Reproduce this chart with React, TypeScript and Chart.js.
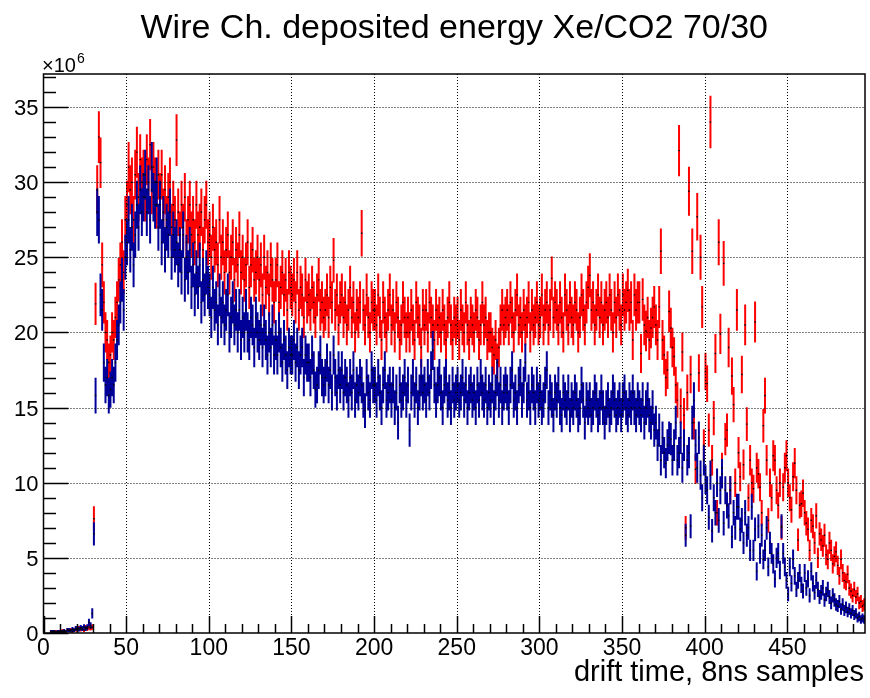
import React, { useEffect, useRef } from "react";
import { Chart, registerables } from "chart.js";

Chart.register(...registerables);

const TITLE = "Wire Ch. deposited energy Xe/CO2 70/30";
const X_TITLE = "drift time, 8ns samples";
const EXP_LABEL = "\u00d710";
const EXP_POWER = "6";

const X_MIN = 0;
const X_MAX = 497;
const Y_MIN = 0;
const Y_MAX = 37.2;
const X_TICKS = [0, 50, 100, 150, 200, 250, 300, 350, 400, 450];
const Y_TICKS = [0, 5, 10, 15, 20, 25, 30, 35];
const X_MINOR_STEP = 10;
const Y_MINOR_STEP = 1;
// per-entry weight (x10^6) used for sqrt(sum w^2) style errors
const ERR_WEIGHT = 0.09;

// deposited energy per bin (x10^6), bins 0..496, red series
const redValues: (number | null)[] = [
  null, null, null, null, 0.1, 0.1, 0.05, 0.1, 0.05, 0.1,
  0.1, 0.15, 0.1, 0.1, 0.2, 0.15, 0.2, 0.1, 0.2, 0.25,
  0.2, 0.3, 0.25, 0.3, 0.2, 0.35, 0.3, 0.4, 0.35, 0.4,
  7.6, 21.9, 29.5, 33.0, 31.3, 24.5, 22.0, 20.0, 19.5, 18.0,
  18.5, 20.0, 19.5, 21.0, 22.0, 23.5, 24.5, 26.0, 24.0, 27.5,
  28.5, 31.0, 29.5, 30.0, 27.5, 30.5, 32.0, 29.0, 31.5, 30.0,
  30.5, 29.0, 31.5, 30.0, 32.5, 29.5, 31.0, 30.0, 28.5, 30.5,
  29.0, 30.5, 28.0, 29.5, 27.5, 29.0, 30.0, 27.0, 28.5, 27.5,
  32.8, 28.0, 26.5, 28.5, 27.0, 29.0, 26.0, 27.5, 28.5, 26.5,
  27.5, 26.0, 28.5, 26.5, 27.0, 28.0, 25.5, 27.5, 28.5, 26.0,
  26.5, 25.0, 27.0, 25.5, 26.0, 24.5, 27.5, 25.0, 26.0, 24.0,
  25.5, 26.5, 24.0, 25.0, 26.0, 23.5, 25.5, 24.5, 26.5, 24.0,
  25.0, 23.5, 24.5, 26.0, 23.0, 24.5, 25.5, 23.5, 24.0, 25.0,
  23.5, 24.5, 22.5, 25.0, 23.0, 24.0, 22.5, 24.5, 23.5, 22.0,
  23.5, 24.5, 22.0, 23.0, 24.0, 22.5, 23.5, 21.5, 24.0, 23.0,
  22.5, 23.5, 22.0, 24.0, 21.5, 23.0, 22.5, 21.0, 23.5, 22.0,
  22.5, 21.5, 23.0, 22.0, 21.0, 22.5, 23.5, 21.5, 22.0, 21.0,
  21.5, 22.5, 21.0, 23.0, 22.0, 24.8, 21.5, 22.5, 20.5, 22.0,
  22.5, 21.0, 22.0, 20.5, 21.5, 23.0, 21.0, 22.0, 20.0, 21.5,
  21.0, 22.0, 26.6, 21.5, 20.5, 22.5, 21.0, 20.0, 22.0, 21.5,
  21.5, 20.5, 22.5, 21.0, 19.5, 22.0, 21.0, 20.0, 21.5, 22.5,
  20.5, 21.5, 20.0, 22.0, 21.0, 19.5, 20.5, 22.0, 21.0, 20.0,
  21.0, 20.0, 21.5, 20.5, 19.5, 22.0, 21.0, 20.5, 19.0, 21.5,
  20.5, 21.5, 20.0, 22.0, 21.0, 20.5, 19.5, 21.5, 20.5, 21.0,
  20.0, 21.5, 20.5, 19.5, 21.0, 22.0, 20.5, 19.5, 21.0, 20.5,
  21.0, 19.5, 21.5, 20.5, 20.0, 22.0, 20.5, 19.5, 21.0, 20.5,
  20.0, 21.5, 21.0, 19.5, 20.5, 22.0, 20.5, 21.0, 19.5, 20.0,
  20.0, 19.0, 18.5, 19.5, 18.0, 19.0, 20.5, 21.5, 20.5, 21.0,
  21.5, 20.5, 22.0, 21.0, 20.0, 21.5, 22.5, 20.5, 21.0, 20.0,
  21.5, 20.5, 21.0, 22.0, 20.0, 21.5, 20.5, 21.0, 22.0, 20.5,
  21.0, 22.5, 20.5, 21.5, 22.0, 20.5, 21.5, 23.6, 21.0, 22.0,
  21.5, 20.5, 22.0, 21.0, 20.0, 22.5, 21.5, 20.5, 22.0, 21.0,
  20.5, 22.0, 21.5, 20.0, 21.0, 22.5, 21.5, 20.5, 22.0, 23.0,
  23.8, 21.5, 22.0, 20.5, 21.5, 22.5, 21.0, 22.0, 20.5, 21.5,
  22.0, 21.0, 22.5, 21.5, 20.0, 22.0, 21.0, 22.5, 21.5, 20.5,
  22.5, 21.5, 22.0, 22.8, 21.5, 22.0, 19.5, 22.5, 21.5, 22.0,
  22.0, 18.6, 22.2, 20.5, 20.1, 21.0, 19.5, 20.3, 21.0, 21.7,
  20.5, 19.5, 21.7, 25.4, 19.5, 18.5, 17.0, 17.5, 21.4, 20.3,
  19.0, 18.4, 16.5, 15.5, 32.1, 15.1, 18.7, 14.5, 7.0, 16.0,
  29.4, 17.2, 25.4, 14.0, 10.9, 27.7, 17.3, 25.0, 21.7, 12.5,
  17.4, 16.6, 13.5, 34.0, 11.5, 14.3, 18.6, 8.0, 26.0, 19.9,
  11.0, 24.6, 12.9, 13.5, 19.0, 9.5, 17.1, 15.2, 10.0, 21.5,
  12.0, 10.4, 17.2, 11.2, 20.5, 13.9, 9.0, 11.5, 10.0, 9.6,
  20.7, 11.0, 10.6, 9.7, 8.0, 13.8, 15.8, 11.5, 7.5, 10.0,
  9.0, 11.8, 11.5, 9.5, 8.5, 10.0, 7.0, 9.7, 11.0, 11.8,
  10.0, 9.0, 8.2, 10.4, 11.3, 9.5, 6.2, 8.5, 8.6, 9.3,
  8.0, 7.3, 6.9, 5.5, 7.5, 7.1, 6.0, 7.8, 5.0, 6.6,
  6.2, 5.8, 6.5, 5.2, 4.9, 6.0, 5.5, 4.6, 5.1, 5.4,
  4.5, 3.8, 4.9, 4.0, 3.5, 3.4, 3.9, 3.0, 2.8, 2.5,
  2.9, 2.4, 2.6, 2.0, 2.1, 1.8, 1.9,
];

// deposited energy per bin (x10^6), bins 0..496, dark blue series
const blueValues: (number | null)[] = [
  null, null, null, null, 0.1, 0.1, 0.1, 0.05, 0.1, 0.1,
  0.1, 0.1, 0.15, 0.1, 0.2, 0.2, 0.15, 0.25, 0.2, 0.3,
  0.3, 0.25, 0.35, 0.3, 0.4, 0.3, 0.4, 0.7, 0.5, 1.3,
  6.6, 15.8, 28.0, 27.5, 22.5, 21.5, 18.0, 16.5, 17.0, 15.8,
  16.2, 17.0, 16.5, 18.0, 19.5, 20.5, 22.0, 23.5, 21.5, 25.0,
  26.0, 27.5, 25.5, 27.0, 24.5, 26.5, 28.5, 27.0, 29.5, 28.0,
  29.0, 30.5, 28.0, 29.5, 27.5, 31.0, 29.0, 28.5, 30.0, 27.0,
  28.5, 26.0, 27.5, 25.5, 27.0, 26.5, 28.0, 25.0, 26.5, 25.5,
  26.0, 24.5, 25.5, 24.0, 26.5, 23.5, 25.0, 24.0, 25.5, 23.0,
  24.5, 22.5, 24.0, 23.0, 24.5, 22.0, 23.5, 22.5, 24.0, 23.0,
  22.5, 21.0, 23.0, 21.5, 22.0, 20.5, 22.5, 21.0, 22.0, 20.5,
  21.5, 22.5, 20.0, 21.0, 22.0, 20.5, 21.5, 20.0, 21.5, 19.5,
  21.0, 20.0, 21.5, 20.0, 19.5, 21.0, 20.5, 19.0, 21.0, 20.0,
  19.5, 20.5, 19.0, 20.5, 19.5, 18.5, 20.0, 19.0, 20.5, 18.5,
  19.5, 18.5, 20.0, 19.0, 18.0, 19.5, 18.5, 17.5, 19.0, 18.5,
  18.5, 19.5, 18.0, 19.0, 17.5, 18.5, 19.0, 17.0, 18.5, 18.0,
  18.0, 17.0, 18.5, 17.5, 16.2, 16.5, 17.5, 18.5, 17.0, 16.5,
  17.0, 18.0, 16.5, 17.5, 16.0, 18.5, 17.0, 16.0, 17.5, 16.5,
  17.5, 16.0, 17.0, 16.5, 15.5, 17.0, 16.0, 17.5, 15.5, 16.5,
  16.0, 17.0, 16.5, 15.5, 14.8, 17.0, 16.0, 15.5, 17.5, 16.5,
  16.5, 15.5, 17.0, 16.0, 15.0, 16.5, 17.5, 15.5, 16.0, 16.5,
  15.5, 16.5, 15.0, 16.0, 14.0, 16.5, 15.5, 16.0, 17.0, 15.5,
  16.5, 13.5, 16.0, 17.0, 15.5, 16.5, 15.0, 16.0, 17.0, 16.0,
  16.5, 15.5, 17.0, 16.0, 17.5, 18.8, 16.5, 15.5, 16.5, 17.0,
  16.0, 15.0, 16.5, 17.0, 15.5, 16.0, 15.0, 16.5, 15.5, 16.0,
  16.5, 15.5, 16.0, 17.0, 15.5, 16.5, 15.0, 16.0, 16.5, 15.5,
  16.0, 15.0, 16.5, 15.5, 17.0, 16.0, 15.5, 16.5, 15.0, 16.0,
  15.5, 16.5, 15.0, 16.0, 17.0, 15.5, 16.5, 15.0, 16.0, 16.5,
  16.0, 15.0, 16.5, 17.5, 15.5, 16.0, 15.0, 16.5, 17.0, 15.5,
  16.5, 18.0, 15.5, 16.0, 15.0, 16.5, 16.0, 15.0, 16.5, 15.5,
  16.0, 15.0, 15.5, 16.5, 17.5, 15.0, 16.0, 15.5, 14.5, 16.0,
  15.5, 16.5, 15.0, 14.5, 16.0, 15.5, 15.0, 16.0, 14.5, 15.5,
  15.0, 16.0, 15.5, 14.5, 15.0, 16.5, 15.5, 14.0, 15.5, 15.0,
  15.5, 14.5, 15.0, 16.0, 15.5, 14.5, 15.0, 16.0, 15.0, 14.0,
  15.0, 15.5, 14.5, 15.0, 16.0, 15.5, 14.5, 15.0, 15.5, 14.5,
  15.5, 16.0, 15.0, 14.5, 15.5, 15.0, 16.0, 15.0, 14.5, 15.5,
  15.0, 14.5, 15.5, 14.0, 15.0, 15.5, 14.5, 14.0, 15.0, 13.5,
  14.0, 12.5, 13.5, 11.5, 13.0, 12.0, 11.3, 12.5, 13.0, 12.9,
  11.5, 12.5, 14.0, 11.5, 12.0, 13.0, 11.0, 12.5, 6.5, 11.5,
  12.0, 7.1, 14.0, 15.5, 12.5, 11.0, 13.0, 10.5, 9.0, 11.5,
  10.2, 9.5, 7.7, 10.5, 6.8, 9.0, 8.0, 10.0, 7.5, 9.5,
  10.6, 7.3, 9.5, 8.5, 7.8, 9.5, 6.4, 8.0, 7.0, 8.4,
  8.4, 6.9, 7.5, 6.0, 8.0, 6.5, 7.0, 5.5, 8.4, 5.5,
  6.9, 4.1, 7.1, 5.3, 6.5, 4.9, 5.5, 7.0, 4.4, 6.0,
  5.3, 4.6, 3.6, 5.0, 5.3, 4.2, 7.1, 5.3, 4.4, 3.5,
  2.6, 4.4, 3.3, 4.9, 3.8, 2.9, 3.5, 4.0, 3.2, 2.8,
  4.0, 3.0, 3.6, 2.5, 4.1, 3.3, 2.7, 3.5, 2.9, 2.4,
  2.7, 3.0, 2.2, 2.6, 2.9, 2.4, 2.0, 2.5, 2.2, 1.9,
  1.8, 2.1, 1.6, 1.9, 1.5, 1.7, 1.4, 1.6, 1.3, 1.5,
  1.2, 1.3, 1.0, 1.1, 0.9, 1.0, 0.9,
];

const RED = "#ff0000";
const BLUE = "#000099";
const FONT = "'Liberation Sans', Arial, Helvetica, sans-serif";

function toPoints(values: (number | null)[]) {
  const pts: { x: number; y: number }[] = [];
  values.forEach((v, i) => {
    if (v !== null && v > 0) pts.push({ x: i + 0.5, y: v });
  });
  return pts;
}

const rootStylePlugin = {
  id: "rootStyle",
  beforeDatasetsDraw(chart: any) {
    const { ctx, chartArea, scales } = chart;
    const xs = scales.x;
    const ys = scales.y;
    ctx.save();
    ctx.beginPath();
    ctx.rect(chartArea.left, chartArea.top, chartArea.right - chartArea.left, chartArea.bottom - chartArea.top);
    ctx.clip();
    chart.data.datasets.forEach((ds: any) => {
      ctx.strokeStyle = ds.errColor;
      ctx.lineWidth = 2;
      ctx.beginPath();
      for (const p of ds.data) {
        const e = Math.sqrt(ERR_WEIGHT * p.y);
        const px = xs.getPixelForValue(p.x);
        ctx.moveTo(px, ys.getPixelForValue(p.y + e));
        ctx.lineTo(px, ys.getPixelForValue(Math.max(0, p.y - e)));
      }
      ctx.stroke();
    });
    ctx.restore();
  },
  afterDatasetsDraw(chart: any) {
    const { ctx, chartArea, scales } = chart;
    const xs = scales.x;
    const ys = scales.y;
    const { left, right, top, bottom } = chartArea;
    ctx.save();
    // dotted grid
    ctx.strokeStyle = "#000";
    ctx.lineWidth = 1;
    ctx.setLineDash([1, 2]);
    ctx.beginPath();
    X_TICKS.forEach((v) => {
      if (v === X_MIN) return;
      const px = Math.round(xs.getPixelForValue(v)) + 0.5;
      ctx.moveTo(px, bottom);
      ctx.lineTo(px, top);
    });
    Y_TICKS.forEach((v) => {
      if (v === Y_MIN) return;
      const py = Math.round(ys.getPixelForValue(v)) + 0.5;
      ctx.moveTo(left, py);
      ctx.lineTo(right, py);
    });
    ctx.stroke();
    ctx.setLineDash([]);

    // ticks (inside)
    ctx.lineWidth = 1.5;
    ctx.beginPath();
    for (let v = X_MIN; v <= X_MAX; v += X_MINOR_STEP) {
      const major = v % 50 === 0;
      const px = Math.round(xs.getPixelForValue(v)) + 0.5;
      ctx.moveTo(px, bottom);
      ctx.lineTo(px, bottom - (major ? 17 : 9));
    }
    for (let v = Y_MIN; v <= Y_MAX; v += Y_MINOR_STEP) {
      const major = v % 5 === 0;
      const py = Math.round(ys.getPixelForValue(v)) + 0.5;
      ctx.moveTo(left, py);
      ctx.lineTo(left + (major ? 25 : 12.5), py);
    }
    ctx.stroke();

    // frame
    ctx.lineWidth = 1.5;
    ctx.strokeRect(left, top, right - left, bottom - top);

    // tick labels
    ctx.fillStyle = "#000";
    ctx.font = `23px ${FONT}`;
    ctx.textAlign = "center";
    ctx.textBaseline = "alphabetic";
    X_TICKS.forEach((v) => {
      ctx.fillText(String(v), xs.getPixelForValue(v), 655);
    });
    ctx.font = `22px ${FONT}`;
    ctx.textAlign = "right";
    Y_TICKS.forEach((v) => {
      ctx.fillText(String(v), left - 5, ys.getPixelForValue(v) + 8);
    });

    // exponent
    ctx.textAlign = "left";
    ctx.font = `20px ${FONT}`;
    ctx.fillText(EXP_LABEL, 42, 72);
    const w = ctx.measureText(EXP_LABEL).width;
    ctx.font = `14px ${FONT}`;
    ctx.fillText(EXP_POWER, 42 + w + 1, 63);

    // axis title
    ctx.font = `29px ${FONT}`;
    ctx.textAlign = "right";
    ctx.fillText(X_TITLE, right - 1, 681);

    // main title
    ctx.font = `34px ${FONT}`;
    ctx.textAlign = "center";
    ctx.fillText(TITLE, (left + right) / 2, 38);
    ctx.restore();
  },
};

export default function App() {
  const canvasRef = useRef<HTMLCanvasElement | null>(null);

  useEffect(() => {
    if (!canvasRef.current) return;
    const chart = new Chart(canvasRef.current, {
      type: "scatter",
      data: {
        datasets: [
          {
            label: "red",
            data: toPoints(redValues),
            errColor: RED,
            pointStyle: "rect",
            pointRadius: 1,
            pointBorderWidth: 0,
            pointBackgroundColor: "#000",
            showLine: false,
          } as any,
          {
            label: "blue",
            data: toPoints(blueValues),
            errColor: BLUE,
            pointStyle: "rect",
            pointRadius: 1,
            pointBorderWidth: 0,
            pointBackgroundColor: "#000",
            showLine: false,
          } as any,
        ],
      },
      options: {
        animation: false,
        responsive: false,
        devicePixelRatio: 1,
        layout: { padding: { top: 74, right: 5, left: 43.5, bottom: 65 } },
        plugins: { legend: { display: false }, tooltip: { enabled: false }, title: { display: false } },
        scales: {
          x: {
            type: "linear",
            min: X_MIN,
            max: X_MAX,
            ticks: { display: false },
            grid: { display: false },
            border: { display: false },
            afterFit: (s: any) => { s.height = 0; },
          },
          y: {
            type: "linear",
            min: Y_MIN,
            max: Y_MAX,
            ticks: { display: false },
            grid: { display: false },
            border: { display: false },
            afterFit: (s: any) => { s.width = 0; },
          },
        },
      },
      plugins: [rootStylePlugin],
    });
    return () => chart.destroy();
  }, []);

  return (
    <div style={{ position: "fixed", left: 0, top: 0, width: 870, height: 698, background: "#fff" }}>
      <canvas ref={canvasRef} width={870} height={698} style={{ width: 870, height: 698 }} />
    </div>
  );
}
